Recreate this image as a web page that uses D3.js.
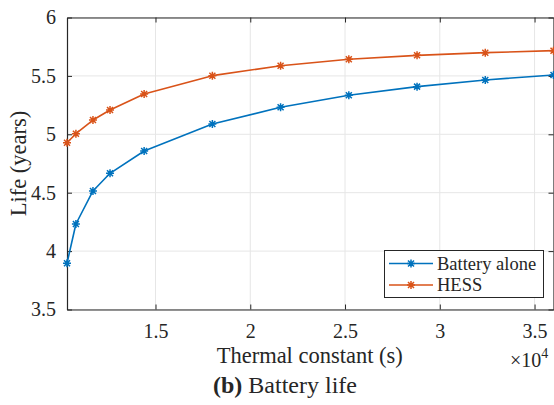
<!DOCTYPE html>
<html>
<head>
<meta charset="utf-8">
<script src="https://cdn.jsdelivr.net/npm/d3@7"></script>
<style>
html,body{margin:0;padding:0;background:#fff;}
svg{display:block;}
text{font-family:"Liberation Serif","Times New Roman",serif;fill:#262626;}
</style>
</head>
<body>
<svg id="chart" width="554" height="405"></svg>
<script>
// Data (thermal constant in seconds, life in years)
const thermalConstant = [10330, 10800, 11700, 12600, 14400, 18000, 21600, 25200, 28800, 32400, 36000];
const batteryAlone = [3.896, 4.232, 4.515, 4.666, 4.857, 5.088, 5.231, 5.334, 5.408, 5.465, 5.508];
const hess = [4.928, 5.005, 5.122, 5.208, 5.345, 5.502, 5.587, 5.642, 5.676, 5.699, 5.716];
const seriesNames = ["Battery alone", "HESS"];
const seriesColors = ["#0072BD", "#D95319"];
const xTicks = [15000, 20000, 25000, 30000, 35000];
const xTickLabels = ["1.5", "2", "2.5", "3", "3.5"];
const yTicks = [3.5, 4, 4.5, 5, 5.5, 6];
const yTickLabels = ["3.5", "4", "4.5", "5", "5.5", "6"];

const svg = d3.select("#chart");
const L = 67, R = 553.5, T = 17.5, B = 309.5;
const x = d3.scaleLinear().domain([10330, 36000]).range([L, R]);
const y = d3.scaleLinear().domain([3.5, 6]).range([B, T]);
const axisColor = "#262626";
const gridColor = "#e6e6e6";

// grid
const grid = svg.append("g");
grid.selectAll("line.vx").data(xTicks).enter().append("line")
  .attr("x1", d => x(d)).attr("x2", d => x(d)).attr("y1", T).attr("y2", B)
  .attr("stroke", gridColor).attr("stroke-width", 1);
grid.selectAll("line.hy").data(yTicks).enter().append("line")
  .attr("x1", L).attr("x2", R).attr("y1", d => y(d)).attr("y2", d => y(d))
  .attr("stroke", gridColor).attr("stroke-width", 1);

// axes via d3 axis (ticks inward)
const fs = 20;
const xAxis = d3.axisBottom(x).tickValues(xTicks).tickFormat((d, i) => xTickLabels[i]).tickSizeInner(-5).tickSizeOuter(0).tickPadding(14);
const gx = svg.append("g").attr("transform", `translate(0,${B})`).call(xAxis);
const xTop = d3.axisTop(x).tickValues(xTicks).tickFormat("").tickSizeInner(-5).tickSizeOuter(0);
const gxt = svg.append("g").attr("transform", `translate(0,${T})`).call(xTop);
const yAxis = d3.axisLeft(y).tickValues(yTicks).tickFormat((d, i) => yTickLabels[i]).tickSizeInner(-5).tickSizeOuter(0).tickPadding(11);
const gy = svg.append("g").attr("transform", `translate(${L},0)`).call(yAxis);
const yRight = d3.axisRight(y).tickValues(yTicks).tickFormat("").tickSizeInner(-5).tickSizeOuter(0);
const gyr = svg.append("g").attr("transform", `translate(${R},0)`).call(yRight);
[gx, gxt, gy, gyr].forEach(g => {
  g.attr("font-family", null);
  g.select(".domain").attr("stroke", axisColor).attr("stroke-width", 1.2);
  g.selectAll(".tick line").attr("stroke", axisColor).attr("stroke-width", 1);
  g.selectAll(".tick text").style("font-family", "'Liberation Serif', serif").attr("font-size", fs).attr("fill", axisColor);
});

// lines and markers
const seriesData = [batteryAlone, hess];
const line = d3.line().x((d, i) => x(thermalConstant[i])).y(d => y(d));

function star(g, cx, cy, color) {
  const r = 4, d = r * 0.75;
  const p = `M${cx - r},${cy}L${cx + r},${cy}M${cx},${cy - r}L${cx},${cy + r}M${cx - d},${cy - d}L${cx + d},${cy + d}M${cx - d},${cy + d}L${cx + d},${cy - d}`;
  g.append("path").attr("d", p).attr("stroke", color).attr("stroke-width", 1.5).attr("fill", "none");
}

seriesData.forEach((vals, si) => {
  const g = svg.append("g");
  g.append("path").datum(vals).attr("d", line).attr("fill", "none")
    .attr("stroke", seriesColors[si]).attr("stroke-width", 1.6).attr("stroke-linejoin", "round");
  vals.forEach((v, i) => star(g, x(thermalConstant[i]), y(v), seriesColors[si]));
});

// legend
const lg = svg.append("g");
lg.append("rect").attr("x", 384.5).attr("y", 250.5).attr("width", 159).attr("height", 47)
  .attr("fill", "#fff").attr("stroke", axisColor).attr("stroke-width", 1);
seriesNames.forEach((name, i) => {
  const ly = 263.5 + i * 21.5;
  lg.append("line").attr("x1", 389).attr("x2", 433).attr("y1", ly).attr("y2", ly)
    .attr("stroke", seriesColors[i]).attr("stroke-width", 1.6);
  star(lg, 411, ly, seriesColors[i]);
  lg.append("text").attr("x", 437).attr("y", ly + 6.3).attr("font-size", 18.5).text(name);
});

// axis labels
svg.append("text").attr("x", (L + R) / 2 - 0.5).attr("y", 363).attr("text-anchor", "middle")
  .attr("font-size", 22.5).text("Thermal constant (s)");
svg.append("text").attr("transform", `translate(26,${(T + B) / 2}) rotate(-90)`).attr("text-anchor", "middle")
  .attr("font-size", 22.5).text("Life (years)");

// exponent
const ex = svg.append("text").attr("x", 510).attr("y", 367).attr("font-size", fs);
ex.append("tspan").text("×10");
ex.append("tspan").attr("font-size", 14).attr("dy", -9).text("4");

// caption
const cap = svg.append("text").attr("x", 213).attr("y", 393).attr("font-size", 24).attr("fill", "#111");
cap.append("tspan").attr("font-weight", "bold").text("(b)");
cap.append("tspan").text(" Battery life");
</script>
</body>
</html>
